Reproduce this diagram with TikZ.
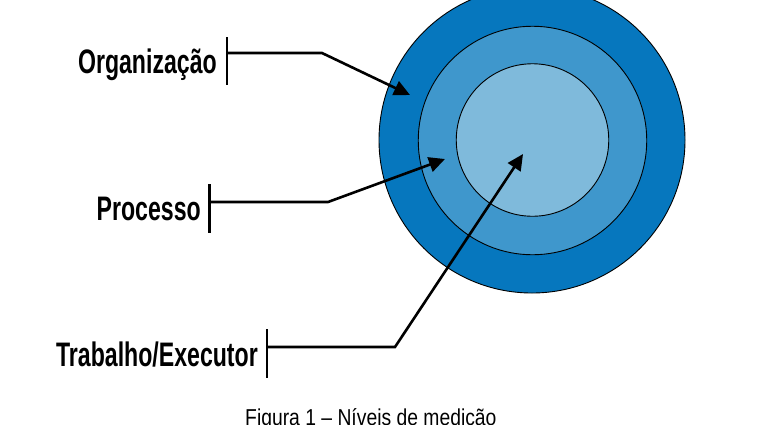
\documentclass[tikz,border=0pt]{standalone}
\usepackage{fontspec}
\setmainfont{Liberation Sans}
\newfontfamily\lblfont[FakeStretch=0.68]{Liberation Sans}
\newfontfamily\capfont[FakeStretch=0.84]{Liberation Sans}
\usetikzlibrary{arrows.meta}
\definecolor{ringA}{HTML}{0677BE}
\definecolor{ringB}{HTML}{3F97CC}
\definecolor{ringC}{HTML}{7FBADB}
\tikzset{
  ring/.style={circle, draw=black, line width=0.9pt, inner sep=0pt},
  lbl/.style={anchor=base east, inner sep=0pt, font=\lblfont\bfseries\fontsize{34}{38}\selectfont},
  bar/.style={line width=2.6pt},
  pointer/.style={line width=2.6pt, -{Triangle[length=16pt,width=15pt]}},
}
\begin{document}
\begin{tikzpicture}[x=1pt,y=-1pt]
\useasboundingbox (0,0) rectangle (781,424);
\clip (0,0) rectangle (781,424);
% rings
\node[ring, fill=ringA, minimum size=306] (outer) at (532,140) {};
\node[ring, fill=ringB, minimum size=228.5] (middle) at (532.5,140.5) {};
\node[ring, fill=ringC, minimum size=152.5] (inner) at (532.5,140) {};
% labels
\node[lbl] (org) at (217,73) {Organização};
\node[lbl] (proc) at (201,220.5) {Processo};
\node[lbl] (trab) at (258,366) {Trabalho/Executor};
% bars
\coordinate (orgT) at (227,37);   \coordinate (orgB) at (227,85);
\coordinate (procT) at (209.5,184); \coordinate (procB) at (209.5,233);
\coordinate (trabT) at (267,329);  \coordinate (trabB) at (267,378);
\draw[bar] (orgT) -- (orgB);
\draw[bar] (procT) -- (procB);
\draw[bar] (trabT) -- (trabB);
% connectors
\coordinate (orgS) at (227,53);   \coordinate (orgK) at (322,53);   \coordinate (orgE) at (410,95);
\coordinate (procS) at (209.5,202); \coordinate (procK) at (328,202); \coordinate (procE) at (445,159);
\coordinate (trabS) at (267,347);  \coordinate (trabK) at (395,347); \coordinate (trabE) at (523,154);
\draw[pointer] (orgS) -- (orgK) -- (orgE);
\draw[pointer] (procS) -- (procK) -- (procE);
\draw[pointer] (trabS) -- (trabK) -- (trabE);
% caption
\node[anchor=base west, inner sep=0pt, font=\capfont\fontsize{23}{26}\selectfont] (cap) at (245,425) {Figura 1 – Níveis de medição};
\end{tikzpicture}
\end{document}
